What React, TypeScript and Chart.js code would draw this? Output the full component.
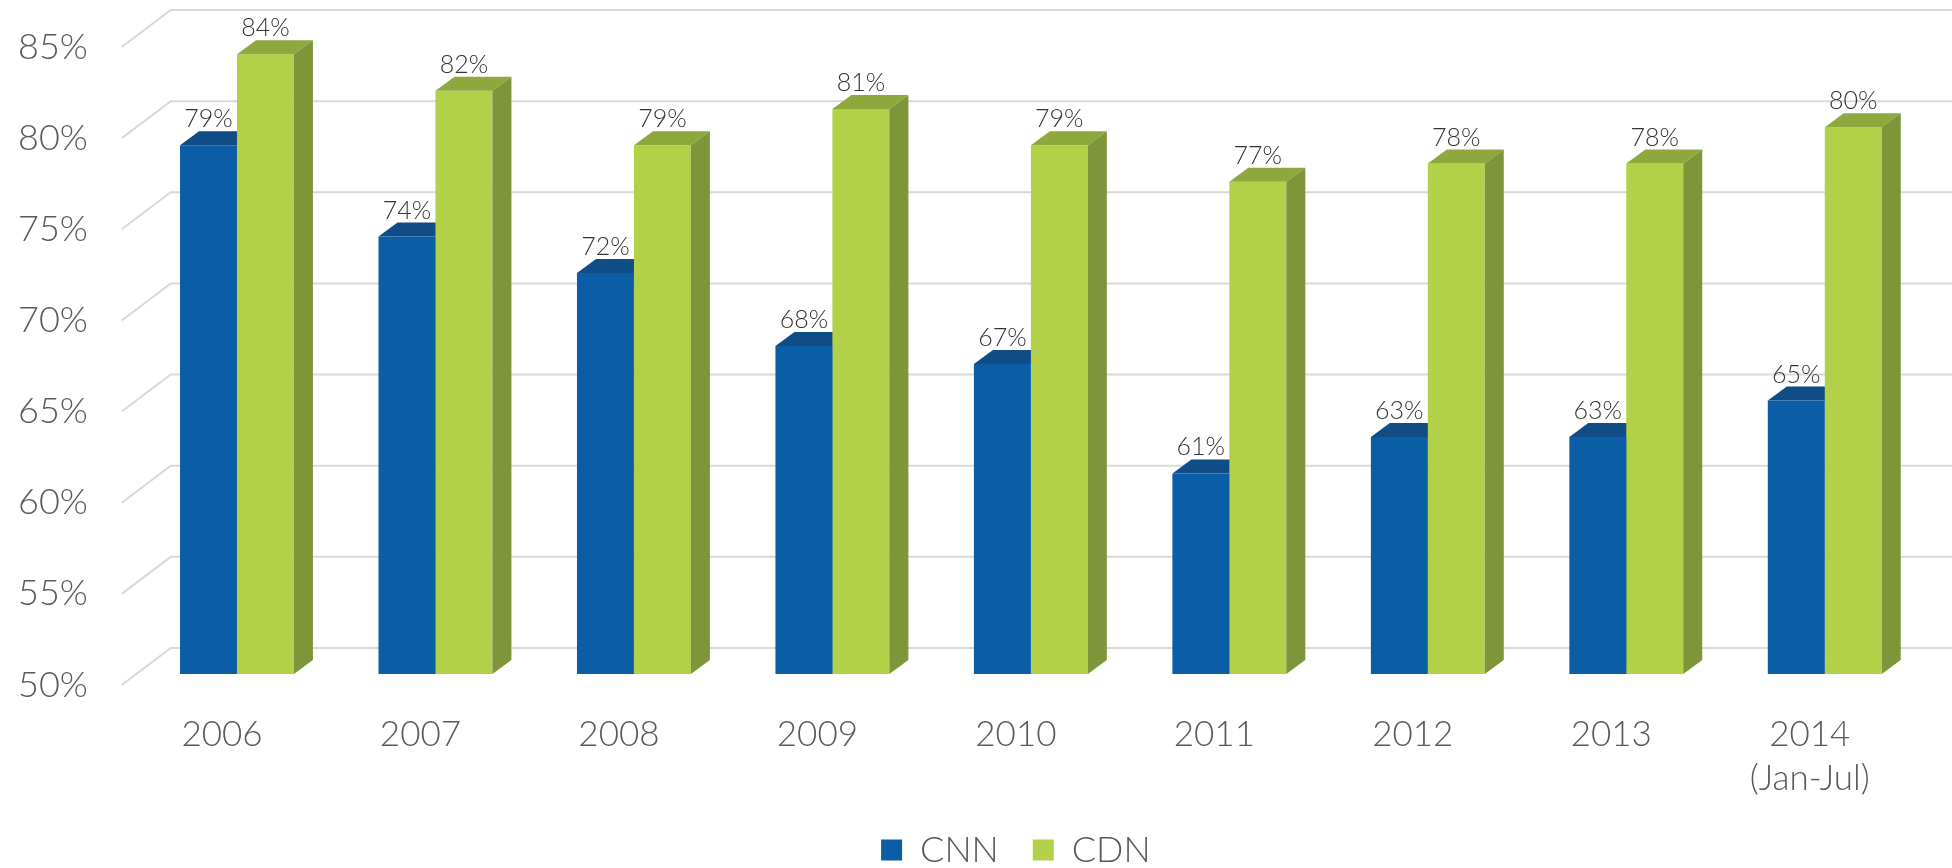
import { useEffect, useRef } from 'react';
import { Chart, registerables } from 'chart.js';

Chart.register(...registerables);

const categories: (string | string[])[] = ['2006', '2007', '2008', '2009', '2010', '2011', '2012', '2013', ['2014', '(Jan-Jul)']];
const seriesNames = ['CNN', 'CDN'];
const cnnValues = [79, 74, 72, 68, 67, 61, 63, 63, 65];
const cdnValues = [84, 82, 79, 81, 79, 77, 78, 78, 80];
const yMin = 50;
const yMax = 85;
const yStep = 5;

const frontColors = ['#0B5EA5', '#B3D049'];
const topColors = ['#104C86', '#8EA83D'];
const sideColors = ['#0A4578', '#7F9539'];

const FONT = 'Lato';
const AXIS_WEIGHT = 300;
const PLANE_X = 15;
const PLANE_Y = 11;
const DEPTH_X = 19;
const DEPTH_Y = 14;
const WALL_X = 49;
const WALL_Y = 37;

function drawFaces(chart: any, idx: number) {
  const { ctx } = chart;
  const meta = chart.getDatasetMeta(idx);
  ctx.save();
  meta.data.forEach((el: any) => {
    const { x, y, base, width } = el.getProps(['x', 'y', 'base', 'width'], true);
    const x0 = x - width / 2;
    const x1 = x + width / 2;
    ctx.fillStyle = topColors[idx];
    ctx.beginPath();
    ctx.moveTo(x0, y);
    ctx.lineTo(x1, y);
    ctx.lineTo(x1 + DEPTH_X, y - DEPTH_Y);
    ctx.lineTo(x0 + DEPTH_X, y - DEPTH_Y);
    ctx.closePath();
    ctx.fill();
    ctx.fillStyle = sideColors[idx];
    ctx.beginPath();
    ctx.moveTo(x1, y);
    ctx.lineTo(x1 + DEPTH_X, y - DEPTH_Y);
    ctx.lineTo(x1 + DEPTH_X, base - DEPTH_Y);
    ctx.lineTo(x1, base);
    ctx.closePath();
    ctx.fill();
  });
  ctx.restore();
}

const bar3d = {
  id: 'bar3d',
  beforeDatasetsDraw(chart: any) {
    const { ctx, chartArea } = chart;
    const y = chart.scales.y;
    ctx.save();
    ctx.strokeStyle = '#D9D9D9';
    ctx.lineWidth = 2;
    y.ticks.forEach((t: any) => {
      const py = y.getPixelForValue(t.value);
      ctx.beginPath();
      ctx.moveTo(chartArea.left - 1, py);
      ctx.lineTo(chartArea.left - 1 + WALL_X, py - WALL_Y);
      ctx.lineTo(chart.width, py - WALL_Y);
      ctx.stroke();
    });
    ctx.restore();
    ctx.save();
    ctx.translate(PLANE_X, -PLANE_Y);
    const n = chart.data.datasets.length;
    for (let i = 0; i < n - 1; i++) drawFaces(chart, i);
  },
  afterDatasetsDraw(chart: any) {
    const { ctx } = chart;
    const n = chart.data.datasets.length;
    drawFaces(chart, n - 1);
    ctx.restore();
    ctx.save();
    ctx.font = `300 25px ${FONT}`;
    ctx.fillStyle = '#333333';
    ctx.textAlign = 'center';
    ctx.textBaseline = 'alphabetic';
    chart.data.datasets.forEach((ds: any, i: number) => {
      const meta = chart.getDatasetMeta(i);
      meta.data.forEach((el: any, j: number) => {
        ctx.fillText(ds.data[j] + '%', el.x + PLANE_X, el.y - PLANE_Y - 18);
      });
    });
    ctx.restore();
  },
};

export default function App() {
  const canvasRef = useRef<HTMLCanvasElement | null>(null);

  useEffect(() => {
    const canvas = canvasRef.current;
    if (!canvas) return;
    const chart = new Chart(canvas, {
      type: 'bar',
      data: {
        labels: categories,
        datasets: [
          {
            label: seriesNames[0],
            data: cnnValues,
            backgroundColor: frontColors[0],
            borderWidth: 0,
            base: yMin,
          },
          {
            label: seriesNames[1],
            data: cdnValues,
            backgroundColor: frontColors[1],
            borderWidth: 0,
            base: yMin,
          },
        ] as any,
      },
      options: {
        responsive: false,
        animation: false,
        categoryPercentage: 0.574,
        barPercentage: 1.0,
        layout: { padding: { top: 47, right: 43, left: 18, bottom: 0 } },
        plugins: {
          tooltip: { enabled: false },
          legend: {
            position: 'bottom',
            fullSize: false,
            labels: {
              boxWidth: 21,
              boxHeight: 21,
              padding: 34,
              color: '#595959',
              font: { family: FONT, size: 36, weight: AXIS_WEIGHT as any },
            },
          },
        },
        scales: {
          x: {
            grid: { display: false, drawTicks: false },
            border: { display: false },
            ticks: {
              color: '#595959',
              padding: 28,
              maxRotation: 0,
              autoSkip: false,
              font: { family: FONT, size: 35, weight: AXIS_WEIGHT as any, lineHeight: 1.25 },
            },
            afterFit: (s: any) => {
              s.height = 113;
            },
          },
          y: {
            min: yMin,
            max: yMax,
            grid: { display: false, drawTicks: false },
            border: { display: false },
            ticks: {
              stepSize: yStep,
              padding: 0,
              crossAlign: 'far',
              color: '#595959',
              font: { family: FONT, size: 36, weight: AXIS_WEIGHT as any },
              callback: (v: any) => v + '%',
            },
            afterFit: (s: any) => {
              s.width = 104.75;
            },
          },
        },
      },
      plugins: [bar3d],
    });
    return () => chart.destroy();
  }, []);

  return (
    <div style={{ position: 'fixed', left: 0, top: 0, width: 1952, height: 878, background: '#fff' }}>
      <canvas ref={canvasRef} width={1952} height={878} style={{ display: 'block' }} />
    </div>
  );
}
